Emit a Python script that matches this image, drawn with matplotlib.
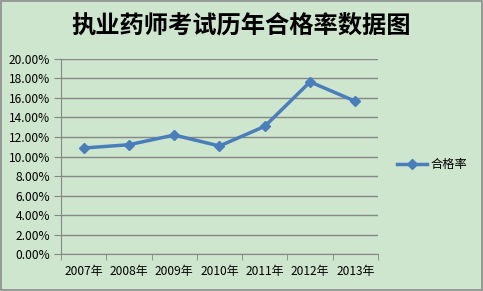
import matplotlib
matplotlib.use('Agg')
import matplotlib.pyplot as plt
from matplotlib.patches import Rectangle
from matplotlib.ticker import FuncFormatter, MultipleLocator

plt.rcParams['font.family'] = ['Noto Sans CJK SC', 'DejaVu Sans']

# --- data ---
years = ['2007年', '2008年', '2009年', '2010年', '2011年', '2012年', '2013年']
pass_rate = [10.87, 11.21, 12.20, 11.08, 13.09, 17.64, 15.65]
title = '执业药师考试历年合格率数据图'
series_name = '合格率'

BG = '#CFE6CE'
LINE = '#4A7EBB'
GRID = '#868686'

fig = plt.figure(figsize=(4.83, 2.91), dpi=100, facecolor=BG)
ax = fig.add_axes([0.1263, 0.1261, 0.6563, 0.6719], facecolor=BG)

x = list(range(len(years)))
ax.plot(x, pass_rate, color=LINE, lw=2.5, marker='D', markersize=5.5,
        markerfacecolor=LINE, markeredgecolor=LINE, label=series_name)

ax.set_xlim(-0.5, len(years) - 0.5)
ax.set_ylim(0, 20)
ax.yaxis.set_major_locator(MultipleLocator(2))
ax.yaxis.set_major_formatter(FuncFormatter(lambda v, p: f'{v:.2f}%'))
ax.grid(True, axis='y', color=GRID, lw=1)
ax.set_axisbelow(True)

ax.set_xticks(x)
ax.set_xticklabels(years)
ax.set_xticks([i - 0.5 for i in range(len(years) + 1)], minor=True)
ax.tick_params(axis='x', which='major', length=0, pad=8, labelsize=8.6)
ax.tick_params(axis='x', which='minor', length=4, color=GRID, direction='out')
ax.tick_params(axis='y', length=5, color=GRID, labelsize=8.6, pad=3)

for s in ['top', 'right']:
    ax.spines[s].set_visible(False)
for s in ['left', 'bottom']:
    ax.spines[s].set_color(GRID)

fig.text(0.5, 0.91, title, ha='center', va='center', fontsize=17.5, fontweight='bold')

leg = fig.legend(loc='center left', bbox_to_anchor=(0.8, 0.435), frameon=False,
                 fontsize=8.8, handlelength=2.4, handletextpad=0.3)

fig.patches.append(Rectangle((0.002, 0.003), 0.995, 0.994, transform=fig.transFigure,
                             fill=False, edgecolor='#8C8C8C', lw=1.2))

fig.savefig('out.png', dpi=100, facecolor=BG)
